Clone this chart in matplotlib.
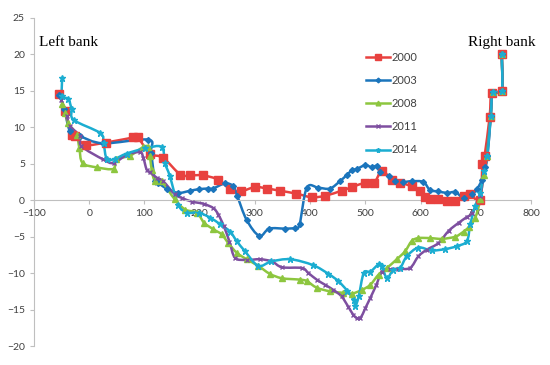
import numpy as np
import matplotlib.pyplot as plt
from matplotlib.path import Path
from matplotlib.patches import PathPatch
from matplotlib.lines import Line2D

years = ["2000", "2003", "2008", "2011", "2014"]

x2000 = [-54, -44, -32, -26, -6, 30, 80, 88, 110, 134, 165, 182, 206, 234, 255, 274, 300, 322, 345,
         375, 403, 427, 457, 476, 500, 516, 530, 548, 563, 584, 599, 608, 617, 632, 648, 663, 678,
         690, 708, 712, 716, 725, 729, 747, 747]
y2000 = [14.5, 12.2, 9.0, 8.8, 7.6, 7.9, 8.6, 8.6, 6.4, 5.8, 3.5, 3.4, 3.4, 2.8, 1.5, 1.2, 1.8, 1.6, 1.3,
         0.9, 0.4, 0.6, 1.3, 1.8, 2.4, 2.4, 4.0, 2.8, 2.4, 1.9, 1.2, 0.4, 0.2, 0.2, -0.1, -0.1, 0.6,
         0.8, 0.0, 4.9, 6.1, 11.4, 14.7, 15.0, 20.0]

x2003 = [-54, -45, -35, -17, 25, 107, 112, 119, 124, 140, 161, 183, 198, 215, 224, 246, 261, 268, 285,
         308, 326, 355, 373, 381, 394, 415, 436, 454, 467, 476, 485, 500, 512, 521, 527, 542, 554, 569,
         584, 605, 617, 632, 648, 663, 678, 693, 702, 711, 716, 720, 727, 731, 747, 747]
y2003 = [14.4, 12.5, 9.5, 8.8, 7.8, 8.3, 6.5, 2.6, 2.4, 1.6, 1.0, 1.3, 1.5, 1.6, 1.6, 2.3, 1.9, 0.6, -2.7,
         -4.9, -3.9, -3.9, -3.8, -3.3, 1.7, 1.7, 1.6, 2.6, 3.5, 4.1, 4.3, 4.8, 4.5, 4.7, 3.8, 3.3, 2.6, 2.5,
         2.6, 2.5, 1.4, 1.2, 1.0, 1.1, 0.3, 0.8, 1.5, 2.8, 4.5, 6.1, 11.6, 14.8, 15.0, 20.0]

x2008 = [-50, -44, -38, -23, -18, -12, 14, 44, 49, 74, 98, 107, 110, 113, 119, 131, 155, 174, 195, 208,
         225, 240, 252, 267, 285, 306, 327, 349, 382, 394, 412, 436, 460, 476, 494, 509, 524, 539, 557,
         572, 584, 596, 617, 639, 663, 678, 687, 699, 708, 714, 720, 727, 731, 747, 747]
y2008 = [13.2, 12.0, 10.6, 9.0, 7.2, 5.1, 4.5, 4.3, 5.6, 6.1, 7.3, 7.3, 6.1, 4.2, 2.6, 2.6, 0.1, -1.3,
         -1.7, -3.1, -4.0, -4.7, -5.9, -7.2, -8.1, -9.0, -10.1, -10.7, -10.9, -11.1, -12.0, -12.5, -12.7,
         -12.8, -12.3, -11.6, -10.2, -9.3, -8.1, -7.0, -5.6, -5.2, -5.2, -5.3, -5.0, -4.3, -3.7, -2.4, 0.1,
         3.5, 6.0, 11.5, 14.8, 15.0, 20.0]

x2011 = [-51, -41, -35, -17, -14, 25, 44, 68, 92, 98, 104, 110, 122, 134, 155, 168, 186, 207, 225, 234,
         244, 254, 264, 285, 309, 331, 349, 385, 397, 412, 427, 442, 457, 469, 478, 485, 491, 500, 509,
         520, 530, 545, 560, 581, 596, 611, 632, 651, 669, 684, 693, 708, 715, 721, 727, 731, 747, 747]
y2011 = [13.8, 11.6, 10.2, 8.8, 7.4, 5.6, 5.1, 6.2, 6.6, 5.8, 4.2, 3.8, 3.1, 2.6, 0.8, 0.3, -0.2, -0.5,
         -1.1, -2.0, -3.6, -5.7, -7.9, -8.2, -8.1, -8.4, -9.2, -9.3, -10.0, -10.9, -11.6, -12.3, -13.2,
         -14.6, -15.7, -16.2, -16.2, -14.8, -13.4, -11.6, -9.8, -9.5, -9.4, -9.3, -7.7, -6.8, -5.9, -4.2,
         -3.1, -2.3, -1.8, 0.6, 3.8, 6.0, 11.5, 14.8, 15.0, 20.0]

x2014 = [-49, -49, -38, -32, -28, 20, 26, 32, 47, 68, 101, 131, 137, 146, 161, 177, 198, 219, 237, 255,
         267, 282, 306, 330, 364, 405, 433, 451, 467, 479, 482, 488, 497, 509, 524, 530, 539, 550, 563,
         575, 596, 620, 645, 666, 684, 690, 699, 708, 715, 721, 727, 731, 747, 747]
y2014 = [16.8, 14.3, 13.9, 12.5, 11.0, 9.2, 7.8, 5.6, 5.7, 6.4, 7.1, 7.3, 5.1, 3.3, -0.6, -1.7, -1.7,
         -2.4, -3.3, -4.3, -5.6, -7.0, -9.0, -8.4, -8.1, -8.9, -10.1, -11.1, -12.4, -13.7, -14.5, -13.2,
         -10.0, -9.8, -8.8, -9.0, -10.7, -9.6, -9.3, -7.7, -6.5, -6.9, -6.7, -6.3, -5.6, -3.3, -0.8, 1.0,
         4.0, 6.0, 11.5, 14.8, 15.0, 20.0]

xs = [x2000, x2003, x2008, x2011, x2014]
ys = [y2000, y2003, y2008, y2011, y2014]
colors = ["#e8413f", "#1b75bc", "#8dc63f", "#7e4fa0", "#1badd1"]
markers = ["s", "D", "^", "x", "*"]
msizes = [5.2, 3.0, 4.2, 3.5, 4.5]


def smooth_path(x, y):
    # excel style smoothed line (catmull-rom as cubic bezier)
    p = np.column_stack([x, y]).astype(float)
    n = len(p)
    verts = [p[0]]
    codes = [Path.MOVETO]
    for i in range(n - 1):
        p0 = p[i - 1] if i > 0 else p[i]
        p1 = p[i]
        p2 = p[i + 1]
        p3 = p[i + 2] if i + 2 < n else p[i + 1]
        verts += [p1 + (p2 - p0) / 6, p2 - (p3 - p1) / 6, p2]
        codes += [Path.CURVE4] * 3
    return Path(verts, codes)


fig = plt.figure(figsize=(5.5, 3.65), dpi=100)
ax = fig.add_axes([0.0618, 0.052, 0.9037, 0.899])

for x, y, c, m, ms in zip(xs, ys, colors, markers, msizes):
    ax.add_patch(PathPatch(smooth_path(x, y), facecolor="none", edgecolor=c, lw=1.8, zorder=2))
    ax.plot(x, y, ls="none", marker=m, ms=ms, color=c, mec=c, mew=1.0, zorder=3)

ax.set_xlim(-100, 800)
ax.set_ylim(-20, 25)
ax.set_xticks(np.arange(-100, 801, 100))
ax.set_yticks(np.arange(-20, 26, 5))

for s in ["top", "right"]:
    ax.spines[s].set_visible(False)
ax.spines["bottom"].set_position(("data", 0))
ax.spines["left"].set_color("#bfbfbf")
ax.spines["bottom"].set_color("#bfbfbf")
ax.tick_params(axis="both", colors="#bfbfbf", labelcolor="#404040", labelsize=7.5,
               direction="out", length=3, width=0.8)
for lab in ax.get_xticklabels() + ax.get_yticklabels():
    lab.set_fontfamily("Lato")

ax.text(0.01, 0.925, "Left bank", transform=ax.transAxes, fontsize=11,
        family="Liberation Serif", va="center")
ax.text(1.01, 0.925, "Right bank", transform=ax.transAxes, fontsize=11,
        family="Liberation Serif", va="center", ha="right")

handles = [Line2D([], [], color=c, marker=m, ms=ms * 0.8, lw=1.8) for c, m, ms in zip(colors, markers, msizes)]
leg = ax.legend(handles, years, loc="upper left", bbox_to_anchor=(0.648, 0.886),
                bbox_transform=fig.transFigure, frameon=False, fontsize=8,
                labelspacing=1.1, handlelength=2.1, handletextpad=0.2)
for t in leg.get_texts():
    t.set_fontfamily("Lato")
    t.set_color("#404040")

fig.savefig("out.png", dpi=100)
